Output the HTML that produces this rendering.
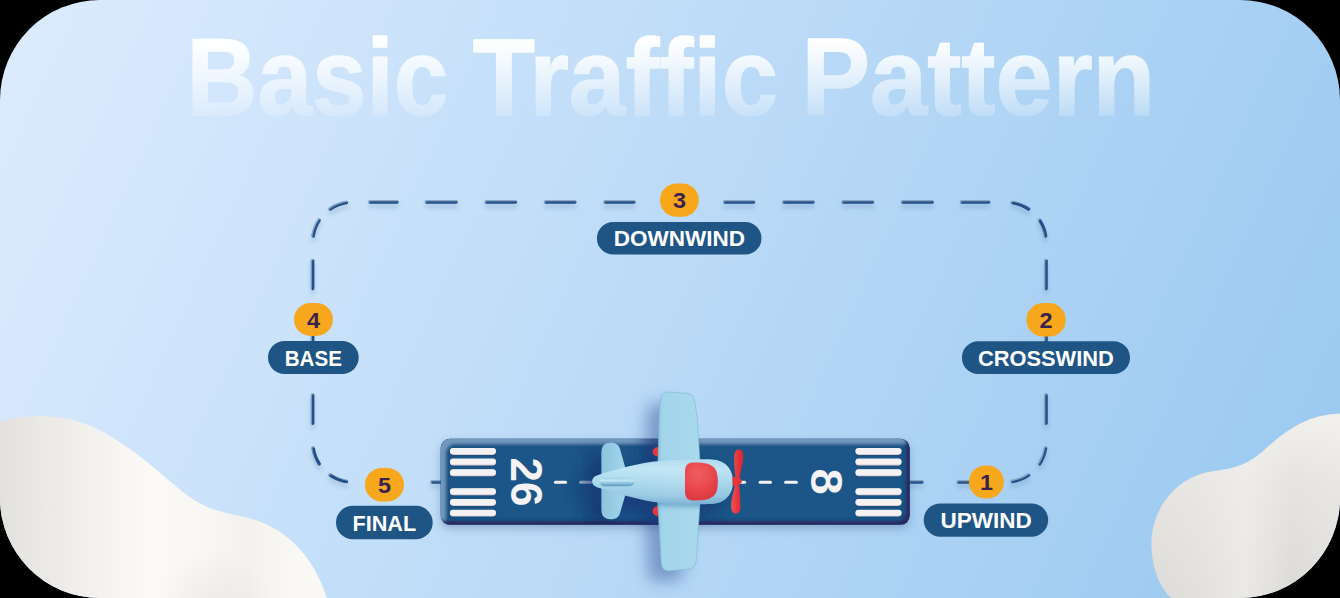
<!DOCTYPE html><html><head><meta charset="utf-8"><title>Basic Traffic Pattern</title>
<style>html,body{margin:0;padding:0;background:#000;}
svg{display:block;font-family:"Liberation Sans",sans-serif;font-weight:bold;}</style></head><body>
<svg width="1340" height="598" viewBox="0 0 1340 598">
<defs>
<clipPath id="card"><rect x="0" y="0" width="1340" height="598" rx="100" ry="100"/></clipPath>
<linearGradient id="bg" gradientUnits="userSpaceOnUse" x1="0" y1="0" x2="1333" y2="610">
 <stop offset="0" stop-color="#ddecfe"/><stop offset="1" stop-color="#98c8f0"/>
</linearGradient>
<mask id="titlemask" maskUnits="userSpaceOnUse" x="0" y="0" width="1340" height="160" style="mask-type:alpha"><rect x="0" y="0" width="1340" height="160" fill="url(#titleg)"/></mask>
<linearGradient id="titleg" gradientUnits="userSpaceOnUse" x1="0" y1="40" x2="0" y2="116">
 <stop offset="0" stop-color="#fff" stop-opacity="1"/><stop offset="0.5" stop-color="#fff" stop-opacity="0.62"/><stop offset="1" stop-color="#fff" stop-opacity="0.2"/>
</linearGradient>
<linearGradient id="cloudL" gradientUnits="userSpaceOnUse" x1="0" y1="0" x2="330" y2="0">
 <stop offset="0" stop-color="#e3e1dd"/><stop offset="0.2" stop-color="#efedea"/><stop offset="0.45" stop-color="#fbfaf7"/><stop offset="0.62" stop-color="#f8f7f4"/><stop offset="0.75" stop-color="#f3f2ee"/><stop offset="0.92" stop-color="#faf9f6"/><stop offset="1" stop-color="#f8f7f4"/>
</linearGradient>
<radialGradient id="cloudLd" gradientUnits="userSpaceOnUse" cx="215" cy="610" r="60">
 <stop offset="0" stop-color="#d8d6d2" stop-opacity="0.38"/><stop offset="1" stop-color="#d8d6d2" stop-opacity="0"/>
</radialGradient>
<linearGradient id="cloudR" gradientUnits="userSpaceOnUse" x1="1150" y1="0" x2="1340" y2="0">
 <stop offset="0" stop-color="#dddbd7"/><stop offset="0.25" stop-color="#e2e0dc"/><stop offset="0.5" stop-color="#eae9e5"/><stop offset="0.75" stop-color="#dcdad6"/><stop offset="1" stop-color="#e2e0dc"/>
</linearGradient>
<linearGradient id="cloudRv" gradientUnits="userSpaceOnUse" x1="0" y1="420" x2="0" y2="598">
 <stop offset="0" stop-color="#f4f2ee" stop-opacity="0.9"/><stop offset="0.35" stop-color="#f2f0ec" stop-opacity="0.45"/><stop offset="1" stop-color="#f2f0ec" stop-opacity="0"/>
</linearGradient>
<filter id="dashsh" x="-50%" y="-100%" width="200%" height="300%">
 <feGaussianBlur in="SourceAlpha" stdDeviation="2.2"/><feOffset dx="0" dy="4" result="b"/>
 <feFlood flood-color="#2a5683" flood-opacity="0.22"/><feComposite in2="b" operator="in" result="sh"/>
 <feOffset in="SourceAlpha" dx="1" dy="1.4" result="o"/><feGaussianBlur in="o" stdDeviation="0.4" result="ob"/>
 <feComposite in="SourceAlpha" in2="ob" operator="out" result="rim"/>
 <feFlood flood-color="#a9c8e4" flood-opacity="0.6"/><feComposite in2="rim" operator="in" result="hl"/>
 <feMerge><feMergeNode in="sh"/><feMergeNode in="SourceGraphic"/><feMergeNode in="hl"/></feMerge>
</filter>
<filter id="rwsh" x="-20%" y="-50%" width="140%" height="200%">
 <feGaussianBlur in="SourceAlpha" stdDeviation="4"/><feOffset dx="0" dy="4" result="b"/>
 <feFlood flood-color="#34557d" flood-opacity="0.33"/><feComposite in2="b" operator="in"/>
 <feMerge><feMergeNode/><feMergeNode in="SourceGraphic"/></feMerge>
</filter>
<filter id="bevel" x="-5%" y="-20%" width="110%" height="140%">
 <feOffset in="SourceAlpha" dx="4.5" dy="5" result="o1"/><feGaussianBlur in="o1" stdDeviation="1.6" result="b1"/>
 <feComposite in="SourceAlpha" in2="b1" operator="out" result="rimTL"/>
 <feFlood flood-color="#7098bd"/><feComposite in2="rimTL" operator="in" result="light"/>
 <feOffset in="SourceAlpha" dx="-4" dy="-4" result="o2"/><feGaussianBlur in="o2" stdDeviation="1.6" result="b2"/>
 <feComposite in="SourceAlpha" in2="b2" operator="out" result="rimBR"/>
 <feFlood flood-color="#2b2c63"/><feComposite in2="rimBR" operator="in" result="dark"/>
 <feMerge><feMergeNode in="SourceGraphic"/><feMergeNode in="light"/><feMergeNode in="dark"/></feMerge>
</filter>
<filter id="blur2"><feGaussianBlur stdDeviation="2"/></filter>
<filter id="blur1"><feGaussianBlur stdDeviation="1"/></filter>
<filter id="planesh" x="-50%" y="-50%" width="200%" height="200%"><feGaussianBlur stdDeviation="8"/></filter>
<clipPath id="rwclip"><rect x="440.7" y="438.8" width="469" height="86" rx="9"/></clipPath>
<linearGradient id="wingg" gradientUnits="userSpaceOnUse" x1="657" y1="0" x2="701" y2="0">
 <stop offset="0" stop-color="#8bc2de"/><stop offset="0.12" stop-color="#a2d4ea"/><stop offset="1" stop-color="#a9d9ec"/>
</linearGradient>
<linearGradient id="fuseg" gradientUnits="userSpaceOnUse" x1="0" y1="459" x2="0" y2="505">
 <stop offset="0" stop-color="#a9d8ed"/><stop offset="0.22" stop-color="#bde4f4"/><stop offset="0.5" stop-color="#a9d8ed"/><stop offset="0.8" stop-color="#92c6e2"/><stop offset="1" stop-color="#6ea7cf"/>
</linearGradient>
<linearGradient id="tailg" gradientUnits="userSpaceOnUse" x1="601" y1="0" x2="628" y2="0">
 <stop offset="0" stop-color="#8cc3df"/><stop offset="1" stop-color="#a6d7ec"/>
</linearGradient>
<linearGradient id="fusehl" gradientUnits="userSpaceOnUse" x1="0" y1="0" x2="733" y2="0">
 <stop offset="0.81" stop-color="#fff" stop-opacity="0"/><stop offset="0.93" stop-color="#fff" stop-opacity="0.12"/><stop offset="1" stop-color="#fff" stop-opacity="0"/>
</linearGradient>
<linearGradient id="fing" gradientUnits="userSpaceOnUse" x1="0" y1="477.7" x2="0" y2="486.2">
 <stop offset="0" stop-color="#9fd0e8"/><stop offset="0.35" stop-color="#c2e7f6"/><stop offset="0.6" stop-color="#94c8e3"/><stop offset="1" stop-color="#5f98c2"/>
</linearGradient>
<linearGradient id="propg" gradientUnits="userSpaceOnUse" x1="731" y1="0" x2="744" y2="0">
 <stop offset="0" stop-color="#f05459"/><stop offset="0.5" stop-color="#e6353d"/><stop offset="1" stop-color="#cf2533"/>
</linearGradient>
<radialGradient id="cockg" gradientUnits="userSpaceOnUse" cx="698" cy="474" r="28">
 <stop offset="0" stop-color="#ef5f62"/><stop offset="0.55" stop-color="#e8474c"/><stop offset="1" stop-color="#d8373f"/>
</radialGradient>
</defs>
<g clip-path="url(#card)">
<rect x="0" y="0" width="1340" height="598" fill="url(#bg)"/>

<g mask="url(#titlemask)" fill="#fff" stroke="#fff" stroke-width="1.3" stroke-linejoin="round">
<text transform="translate(186.53,115.10) scale(0.9003,1)" font-size="109" fill="#fff" >Basic</text>
<text transform="translate(472.64,115.10) scale(0.9342,1)" font-size="109" fill="#fff" >Traffic</text>
<text transform="translate(801.52,115.10) scale(0.9423,1)" font-size="109" fill="#fff" >Pattern</text>
</g>
<g filter="url(#dashsh)"><path d="M369.90,202.0 H397.00 M961.60,202.0 H988.70 M426.40,202.0 H456.10 M902.50,202.0 H932.20 M486.20,202.0 H515.50 M843.10,202.0 H872.40 M545.60,202.0 H574.80 M783.80,202.0 H813.00 M605.10,202.0 H633.90 M724.70,202.0 H753.50 M312.6,260.60 V288.60 M1046.0,260.60 V288.60 M312.6,395.10 V423.30 M1046.0,395.10 V423.30 M312.6,335.80 V341.20 M1046.0,335.80 V341.20 M346.36,202.49 A40,40 0 0 0 330.10,208.93 M319.06,220.20 A40,40 0 0 0 313.07,235.90 M1012.24,202.49 A40,40 0 0 1 1028.50,208.93 M1039.54,220.20 A40,40 0 0 1 1045.53,235.90 M346.36,481.51 A40,40 0 0 1 330.10,475.07 M319.06,463.80 A40,40 0 0 1 313.07,448.10 M1012.24,481.51 A40,40 0 0 0 1028.50,475.07 M1039.54,463.80 A40,40 0 0 0 1045.53,448.10 M432.00,482.0 H443.20 M906.80,482.0 H921.90 M958.20,482.0 H973.20" fill="none" stroke="#23518a" stroke-width="3.6" stroke-linecap="round"/></g>
<rect x="596.9" y="221.9" width="164.60" height="32.60" rx="16.30" fill="#1e5585"/>
<text transform="translate(613.66,246.40) scale(1.0105,1)" font-size="22.3" fill="#ffffff" >DOWNWIND</text>
<rect x="961.9" y="341.3" width="168.10" height="32.80" rx="16.40" fill="#1e5585"/>
<text transform="translate(977.96,366.00) scale(0.9796,1)" font-size="22.3" fill="#ffffff" >CROSSWIND</text>
<rect x="268.0" y="340.9" width="90.70" height="33.10" rx="16.55" fill="#1e5585"/>
<text transform="translate(284.75,365.70) scale(0.9232,1)" font-size="22.3" fill="#ffffff" >BASE</text>
<rect x="336.0" y="505.8" width="96.70" height="33.40" rx="16.70" fill="#1e5585"/>
<text transform="translate(352.50,530.60) scale(0.9710,1)" font-size="22.3" fill="#ffffff" >FINAL</text>
<rect x="923.7" y="503.4" width="124.50" height="33.30" rx="16.65" fill="#1e5585"/>
<text transform="translate(940.48,527.90) scale(1.0095,1)" font-size="22.3" fill="#ffffff" >UPWIND</text>
<rect x="968.9" y="465.4" width="35.00" height="33.20" rx="16.60" fill="#f7a71c"/>
<text transform="translate(986.40,490.30) scale(1.04,1)" font-size="22.5" text-anchor="middle" fill="#3a2250">1</text>
<rect x="1026.4" y="303.0" width="39.40" height="33.60" rx="16.80" fill="#f7a71c"/>
<text transform="translate(1046.10,328.10) scale(1.04,1)" font-size="22.5" text-anchor="middle" fill="#3a2250">2</text>
<rect x="659.9" y="183.4" width="39.00" height="33.40" rx="16.70" fill="#f7a71c"/>
<text transform="translate(679.40,208.40) scale(1.04,1)" font-size="22.5" text-anchor="middle" fill="#3a2250">3</text>
<rect x="294.0" y="303.0" width="38.90" height="32.90" rx="16.45" fill="#f7a71c"/>
<text transform="translate(313.45,327.75) scale(1.04,1)" font-size="22.5" text-anchor="middle" fill="#3a2250">4</text>
<rect x="364.9" y="467.9" width="39.10" height="33.60" rx="16.80" fill="#f7a71c"/>
<text transform="translate(384.45,493.00) scale(1.04,1)" font-size="22.5" text-anchor="middle" fill="#3a2250">5</text>
<g filter="url(#rwsh)"><rect x="440.7" y="438.8" width="469.0" height="86.0" rx="9" fill="#2a2e66"/></g>
<g clip-path="url(#rwclip)">
<rect x="440.7" y="438.8" width="469.0" height="86.0" rx="9" fill="#1f5587" filter="url(#bevel)"/>
</g>
<rect x="450.0" y="448.90" width="45.90" height="6.6" rx="3.3" fill="#0f3561" opacity="0.35" filter="url(#blur1)"/>
<rect x="450.0" y="448.30" width="45.90" height="6.6" rx="3.3" fill="#dccdd5"/>
<rect x="450.0" y="448.00" width="45.90" height="6.0" rx="3.0" fill="#f3f1f1"/>
<rect x="855.5" y="448.90" width="46.00" height="6.6" rx="3.3" fill="#0f3561" opacity="0.35" filter="url(#blur1)"/>
<rect x="855.5" y="448.30" width="46.00" height="6.6" rx="3.3" fill="#dccdd5"/>
<rect x="855.5" y="448.00" width="46.00" height="6.0" rx="3.0" fill="#f3f1f1"/>
<rect x="450.0" y="459.50" width="45.90" height="6.6" rx="3.3" fill="#0f3561" opacity="0.35" filter="url(#blur1)"/>
<rect x="450.0" y="458.90" width="45.90" height="6.6" rx="3.3" fill="#dccdd5"/>
<rect x="450.0" y="458.60" width="45.90" height="6.0" rx="3.0" fill="#f3f1f1"/>
<rect x="855.5" y="459.50" width="46.00" height="6.6" rx="3.3" fill="#0f3561" opacity="0.35" filter="url(#blur1)"/>
<rect x="855.5" y="458.90" width="46.00" height="6.6" rx="3.3" fill="#dccdd5"/>
<rect x="855.5" y="458.60" width="46.00" height="6.0" rx="3.0" fill="#f3f1f1"/>
<rect x="450.0" y="470.20" width="45.90" height="6.6" rx="3.3" fill="#0f3561" opacity="0.35" filter="url(#blur1)"/>
<rect x="450.0" y="469.60" width="45.90" height="6.6" rx="3.3" fill="#dccdd5"/>
<rect x="450.0" y="469.30" width="45.90" height="6.0" rx="3.0" fill="#f3f1f1"/>
<rect x="855.5" y="470.20" width="46.00" height="6.6" rx="3.3" fill="#0f3561" opacity="0.35" filter="url(#blur1)"/>
<rect x="855.5" y="469.60" width="46.00" height="6.6" rx="3.3" fill="#dccdd5"/>
<rect x="855.5" y="469.30" width="46.00" height="6.0" rx="3.0" fill="#f3f1f1"/>
<rect x="450.0" y="489.20" width="45.90" height="6.6" rx="3.3" fill="#0f3561" opacity="0.35" filter="url(#blur1)"/>
<rect x="450.0" y="488.60" width="45.90" height="6.6" rx="3.3" fill="#dccdd5"/>
<rect x="450.0" y="488.30" width="45.90" height="6.0" rx="3.0" fill="#f3f1f1"/>
<rect x="855.5" y="489.20" width="46.00" height="6.6" rx="3.3" fill="#0f3561" opacity="0.35" filter="url(#blur1)"/>
<rect x="855.5" y="488.60" width="46.00" height="6.6" rx="3.3" fill="#dccdd5"/>
<rect x="855.5" y="488.30" width="46.00" height="6.0" rx="3.0" fill="#f3f1f1"/>
<rect x="450.0" y="499.90" width="45.90" height="6.6" rx="3.3" fill="#0f3561" opacity="0.35" filter="url(#blur1)"/>
<rect x="450.0" y="499.30" width="45.90" height="6.6" rx="3.3" fill="#dccdd5"/>
<rect x="450.0" y="499.00" width="45.90" height="6.0" rx="3.0" fill="#f3f1f1"/>
<rect x="855.5" y="499.90" width="46.00" height="6.6" rx="3.3" fill="#0f3561" opacity="0.35" filter="url(#blur1)"/>
<rect x="855.5" y="499.30" width="46.00" height="6.6" rx="3.3" fill="#dccdd5"/>
<rect x="855.5" y="499.00" width="46.00" height="6.0" rx="3.0" fill="#f3f1f1"/>
<rect x="450.0" y="510.60" width="45.90" height="6.6" rx="3.3" fill="#0f3561" opacity="0.35" filter="url(#blur1)"/>
<rect x="450.0" y="510.00" width="45.90" height="6.6" rx="3.3" fill="#dccdd5"/>
<rect x="450.0" y="509.70" width="45.90" height="6.0" rx="3.0" fill="#f3f1f1"/>
<rect x="855.5" y="510.60" width="46.00" height="6.6" rx="3.3" fill="#0f3561" opacity="0.35" filter="url(#blur1)"/>
<rect x="855.5" y="510.00" width="46.00" height="6.6" rx="3.3" fill="#dccdd5"/>
<rect x="855.5" y="509.70" width="46.00" height="6.0" rx="3.0" fill="#f3f1f1"/>
<rect x="553.9" y="480.7" width="13.20" height="3.0" rx="1.5" fill="#f3f1f1" opacity="1"/>
<rect x="579.2" y="480.7" width="13.00" height="3.0" rx="1.5" fill="#f3f1f1" opacity="0.7"/>
<rect x="733.1" y="480.7" width="13.10" height="3.0" rx="1.5" fill="#f3f1f1" opacity="1"/>
<rect x="758.6" y="480.7" width="13.40" height="3.0" rx="1.5" fill="#f3f1f1" opacity="1"/>
<rect x="784.1" y="480.7" width="13.80" height="3.0" rx="1.5" fill="#f3f1f1" opacity="1"/>
<text transform="translate(511.2,457.5) rotate(90) scale(1.01,1)" font-size="43.5" fill="#f4f2f2">26</text>
<text transform="translate(810.8,468.5) rotate(90) scale(1.086,1)" font-size="43.5" fill="#f4f2f2">8</text>
<clipPath id="wingclip"><path d="M657.5,482 L659.1,416 C659.5,405 660.3,398 662.4,395 C663.8,392.8 665.5,392 668,392 L687.5,393.4 C692,393.8 694,396.2 694.6,400.5 L697,416 L701.4,482 L700,502 L696.6,557 C696.2,565.5 693.5,568.6 689.8,569 L668.6,570.9 C664.2,571.2 661.6,568 661.1,562.5 L657.7,502 Z"/></clipPath>
<g clip-path="url(#rwclip)"><g opacity="0.55" filter="url(#planesh)" transform="translate(-13,9)" fill="#0b2760"><path d="M657.5,482 L659.1,416 C659.5,405 660.3,398 662.4,395 C663.8,392.8 665.5,392 668,392 L687.5,393.4 C692,393.8 694,396.2 694.6,400.5 L697,416 L701.4,482 L700,502 L696.6,557 C696.2,565.5 693.5,568.6 689.8,569 L668.6,570.9 C664.2,571.2 661.6,568 661.1,562.5 L657.7,502 Z"/><path d="M601.4,481 V452.5 C601.4,446 604.6,442.8 610.2,442.8 C615.6,442.8 618.6,444.6 619.9,448.6 L628.5,479 L628.5,484 L619.9,513.4 C618.6,517.4 615.6,519.2 610.2,519.2 C604.6,519.2 601.4,516 601.4,509.5 Z"/><path d="M597.5,475.3 C615,469.6 640,462.4 660,461 C680,459.4 700,459.2 712,459.4 C725.5,459.8 733.1,469.5 733.1,481.6 C733.1,493.6 725.5,503.6 712,503.9 C700,504.3 680,504.4 660,502.8 C640,500.4 615,492.6 597.5,487.4 C590.3,485.4 590.3,477.4 597.5,475.3 Z"/></g></g>
<g opacity="0.42" filter="url(#planesh)" transform="translate(-13,11)" fill="#22428a"><path d="M657.5,482 L659.1,416 C659.5,405 660.3,398 662.4,395 C663.8,392.8 665.5,392 668,392 L687.5,393.4 C692,393.8 694,396.2 694.6,400.5 L697,416 L701.4,482 L700,502 L696.6,557 C696.2,565.5 693.5,568.6 689.8,569 L668.6,570.9 C664.2,571.2 661.6,568 661.1,562.5 L657.7,502 Z"/><path d="M597.5,475.3 C615,469.6 640,462.4 660,461 C680,459.4 700,459.2 712,459.4 C725.5,459.8 733.1,469.5 733.1,481.6 C733.1,493.6 725.5,503.6 712,503.9 C700,504.3 680,504.4 660,502.8 C640,500.4 615,492.6 597.5,487.4 C590.3,485.4 590.3,477.4 597.5,475.3 Z"/></g>
<ellipse cx="657.6" cy="451.7" rx="5" ry="4.7" fill="#e2383f"/><ellipse cx="657.6" cy="511.1" rx="5" ry="4.9" fill="#e2383f"/>
<path d="M601.4,481 V452.5 C601.4,446 604.6,442.8 610.2,442.8 C615.6,442.8 618.6,444.6 619.9,448.6 L628.5,479 L628.5,484 L619.9,513.4 C618.6,517.4 615.6,519.2 610.2,519.2 C604.6,519.2 601.4,516 601.4,509.5 Z" fill="url(#tailg)"/>
<path d="M657.5,482 L659.1,416 C659.5,405 660.3,398 662.4,395 C663.8,392.8 665.5,392 668,392 L687.5,393.4 C692,393.8 694,396.2 694.6,400.5 L697,416 L701.4,482 L700,502 L696.6,557 C696.2,565.5 693.5,568.6 689.8,569 L668.6,570.9 C664.2,571.2 661.6,568 661.1,562.5 L657.7,502 Z" fill="url(#wingg)"/>
<path d="M657.5,482 L659.1,416 C659.5,405 660.3,398 662.4,395 C663.8,392.8 665.5,392 668,392 L687.5,393.4 C692,393.8 694,396.2 694.6,400.5 L697,416 L701.4,482 L700,502 L696.6,557 C696.2,565.5 693.5,568.6 689.8,569 L668.6,570.9 C664.2,571.2 661.6,568 661.1,562.5 L657.7,502 Z" fill="none" stroke="#7fb6d6" stroke-width="1" opacity="0.6"/>
<g clip-path="url(#wingclip)"><path d="M597.5,475.3 C615,469.6 640,462.4 660,461 C680,459.4 700,459.2 712,459.4 C725.5,459.8 733.1,469.5 733.1,481.6 C733.1,493.6 725.5,503.6 712,503.9 C700,504.3 680,504.4 660,502.8 C640,500.4 615,492.6 597.5,487.4 C590.3,485.4 590.3,477.4 597.5,475.3 Z" transform="translate(-2,3)" fill="#3f7fb0" opacity="0.45" filter="url(#blur2)"/></g>
<path d="M597.5,475.3 C615,469.6 640,462.4 660,461 C680,459.4 700,459.2 712,459.4 C725.5,459.8 733.1,469.5 733.1,481.6 C733.1,493.6 725.5,503.6 712,503.9 C700,504.3 680,504.4 660,502.8 C640,500.4 615,492.6 597.5,487.4 C590.3,485.4 590.3,477.4 597.5,475.3 Z" fill="url(#fuseg)"/>
<path d="M597.5,475.3 C615,469.6 640,462.4 660,461 C680,459.4 700,459.2 712,459.4 C725.5,459.8 733.1,469.5 733.1,481.6 C733.1,493.6 725.5,503.6 712,503.9 C700,504.3 680,504.4 660,502.8 C640,500.4 615,492.6 597.5,487.4 C590.3,485.4 590.3,477.4 597.5,475.3 Z" fill="url(#fusehl)"/>
<path d="M603.5,477.7 H628 C632,477.7 634.8,479.6 634.8,482 C634.8,484.4 632,486.2 628,486.2 H603.5 C601.2,486.2 600,484.1 600,482 C600,479.9 601.2,477.7 603.5,477.7 Z" fill="url(#fing)"/>
<path d="M693,462.5 C703,462.3 711.5,463 715.6,469.5 C718.6,474.5 718.6,488.5 715.6,493.5 C711.5,500 703,500.6 693,500.4 C687.2,500.3 685,497 685,491 V472 C685,466 687.2,462.6 693,462.5 Z" fill="url(#cockg)"/>
<path d="M735.6,478 C734.6,470 733.8,462 734.2,456 C734.6,451.6 736.4,449.6 738.9,449.6 C741.6,449.6 743.4,451.6 743.4,455.6 C743.4,462 741,470 739.6,478 Z" fill="url(#propg)"/>
<path d="M735,485 C733.5,492 731.1,500 731.1,506 C731.1,511 733,513.7 735.6,513.7 C738.3,513.7 740.4,511.5 740.4,507 C740.4,500 739.6,492 739.2,485 Z" fill="url(#propg)"/>
<path d="M732.4,476.8 C737.5,476.4 741.8,478.2 741.8,481.2 C741.8,484.2 737.5,486 732.4,485.6 Z" fill="#e5353d"/>
<path d="M-30,432 C0,418 55,404 105,433 C140,453 165,478 188,496 C208,510 222,512 245,517 C286,527 314,556 327.5,600 L-30,600 Z" fill="url(#cloudL)"/><path d="M-30,432 C0,418 55,404 105,433 C140,453 165,478 188,496 C208,510 222,512 245,517 C286,527 314,556 327.5,600 L-30,600 Z" fill="url(#cloudLd)"/>
<path d="M1360,415 C1310,408 1285,432 1262,452 C1250,462 1240,468 1212,471.5 C1175,477 1151,510 1151.5,545 C1152,570 1160,588 1173,600 L1360,600 Z" fill="url(#cloudR)"/><path d="M1360,415 C1310,408 1285,432 1262,452 C1250,462 1240,468 1212,471.5 C1175,477 1151,510 1151.5,545 C1152,570 1160,588 1173,600 L1360,600 Z" fill="url(#cloudRv)"/>
</g></svg></body></html>
